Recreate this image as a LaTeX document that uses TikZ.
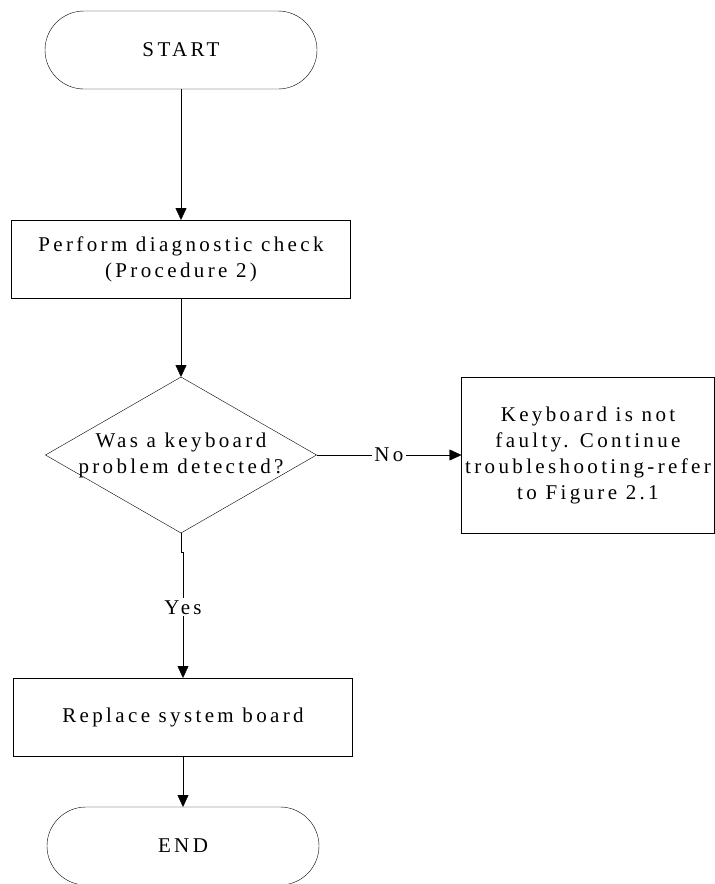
\documentclass[tikz,border=0pt]{standalone}
\usepackage{fontspec}
\setmainfont{Liberation Serif}[LetterSpace=16]
\usetikzlibrary{
  positioning,     % positions like below of node
  shapes.geometric,% diamond for the decision
  arrows.meta      % filled triangle tips
}
\tikzset{
    x=1pt, y=1pt,
    every node/.style = {
        font=\fontsize{21}{26}\selectfont,
        align=center,
        outer sep=0pt,
        inner sep=3pt
    },
    terminal/.append style = {draw, rectangle, rounded corners=39pt,
        minimum width=272pt, minimum height=78pt},
    process/.append style = {draw, rectangle, minimum width=339pt, minimum height=78pt},
    decision/.append style = {draw, diamond, minimum width=271pt, minimum height=156pt},
    remark/.append style = {draw, rectangle, minimum width=253pt, minimum height=156pt},
    answer/.append style = {fill=white, inner sep=2pt},
    line width=1pt,
    >={Triangle[length=12pt,width=11pt]}  % arrow type
}

\begin{document}
\begin{tikzpicture}
  \useasboundingbox (0,0) rectangle (715,-884);

  %% main column
  \node [terminal] (start) at (181,-50) {START};
  \node [process, below=131pt of start] (diag) {Perform diagnostic check\\(Procedure 2)};
  \node [decision, below=79pt of diag,
         label={center:Was a keyboard\\problem detected?}] (kbd) {};
  \node [process, below=145pt of kbd, xshift=2pt] (repl) {Replace system board};
  \node [terminal, below=51pt of repl] (stop) {END};

  %% side branch
  \node [remark, right=145pt of kbd] (notfaulty)
    {Keyboard is not\\faulty. Continue\\troubleshooting-refer\\to Figure 2.1};

  %% arrows
  \draw [->] (start) -- (diag);
  \draw [->] (diag) -- (kbd);
  \draw [->] (kbd) -- node [answer] {No} (notfaulty);
  \draw [->] (kbd.south) -- ++(0,-19) -| node [answer, pos=0.72] {Yes} (repl.north);
  \draw [->] (repl) -- (stop);

\end{tikzpicture}
\end{document}
